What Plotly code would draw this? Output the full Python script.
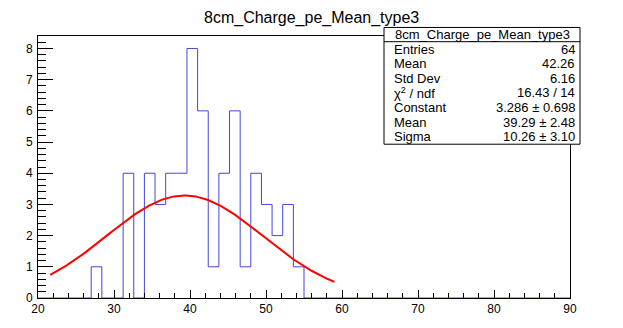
import plotly.graph_objects as go
import math

# ---------------- data ----------------
hist_title = "8cm_Charge_pe_Mean_type3"
x_min, x_max, n_bins = 20.0, 90.0, 50
counts = [0, 0, 0, 0, 0, 1, 0, 0, 4, 0,
          4, 3, 4, 4, 8, 6, 1, 4, 6, 1,
          4, 3, 2, 3, 1, 0, 0, 0, 0, 0,
          0, 0, 0, 0, 0, 0, 0, 0, 0, 0,
          0, 0, 0, 0, 0, 0, 0, 0, 0, 0]
fit_constant, fit_mean, fit_sigma = 3.286, 39.29, 10.26
fit_range = [21.6, 59.0]
stat_labels = ["Entries", "Mean", "Std Dev", "χ<sup>2</sup> / ndf", "Constant", "Mean", "Sigma"]
stat_values = ["64", "42.26", "6.16", "16.43 / 14", "3.286 ± 0.698", "39.29 ± 2.48", "10.26 ± 3.10"]
x_ticks = [20, 30, 40, 50, 60, 70, 80, 90]
y_ticks = [0, 1, 2, 3, 4, 5, 6, 7, 8]

# ---------------- build ----------------
W, H = 623, 328
L, R, T, B = 38, 570, 36, 312
width = (x_max - x_min) / n_bins
edges = [x_min + i * width for i in range(n_bins + 1)]
sx = [x_min] + edges + [x_max]
sy = [0] + counts + [counts[-1], 0]

n_fit = 200
fx = [fit_range[0] + (fit_range[1] - fit_range[0]) * i / (n_fit - 1) for i in range(n_fit)]
fy = [fit_constant * math.exp(-0.5 * ((v - fit_mean) / fit_sigma) ** 2) for v in fx]

FONT = "Liberation Sans, Arial, Helvetica, sans-serif"

fig = go.Figure()
fig.add_trace(go.Scatter(x=sx, y=sy, mode="lines", line=dict(shape="hv", color="rgb(70,70,215)", width=1),
                         hoverinfo="skip", showlegend=False))
fig.add_trace(go.Scatter(x=fx, y=fy, mode="lines", line=dict(color="rgb(255,0,0)", width=2),
                         hoverinfo="skip", showlegend=False))

def px(x):
    return (x - L) / (R - L)

def py(y):
    return (B - y) / (B - T)

box_l, box_r, box_t, box_b, sep = 384, 580, 27, 150, 42
shapes = [
    dict(type="rect", xref="paper", yref="paper", x0=px(box_l), x1=px(box_r), y0=py(box_b), y1=py(box_t),
         line=dict(color="black", width=1), fillcolor="white", layer="above"),
    dict(type="line", xref="paper", yref="paper", x0=px(box_l), x1=px(box_r), y0=py(sep), y1=py(sep),
         line=dict(color="black", width=1), layer="above"),
]
annotations = [
    dict(text=hist_title, xref="paper", yref="paper", x=px(311), y=py(17), xanchor="center", yanchor="middle",
         showarrow=False, font=dict(family=FONT, size=16, color="black")),
    dict(text=hist_title, xref="paper", yref="paper", x=px((box_l + box_r) / 2), y=py(34.5), xanchor="center",
         yanchor="middle", showarrow=False, font=dict(family=FONT, size=13, color="black")),
]
row_h = (box_b - sep) / len(stat_labels)
for i, (lab, val) in enumerate(zip(stat_labels, stat_values)):
    yc = sep + row_h * (i + 0.5)
    annotations.append(dict(text=lab, xref="paper", yref="paper", x=px(392), y=py(yc), xanchor="left",
                            yanchor="middle", showarrow=False, font=dict(family=FONT, size=13, color="black")))
    annotations.append(dict(text=val, xref="paper", yref="paper", x=px(577), y=py(yc), xanchor="right",
                            yanchor="middle", showarrow=False, font=dict(family=FONT, size=13, color="black")))

fig.update_layout(
    width=W, height=H, margin=dict(l=L, r=W - R, t=T, b=H - B),
    paper_bgcolor="white", plot_bgcolor="white",
    shapes=shapes, annotations=annotations,
    font=dict(family=FONT, color="black"),
    xaxis=dict(range=[x_min, x_max], tickvals=x_ticks, ticks="inside", ticklen=8, tickcolor="black",
               showgrid=False, zeroline=False, showline=True, linecolor="black", linewidth=1, mirror=True,
               tickfont=dict(size=12), ticklabelstandoff=0,
               minor=dict(ticks="inside", ticklen=5, dtick=2, tick0=0, tickcolor="black", showgrid=False)),
    yaxis=dict(range=[0, 8.4], tickvals=y_ticks, ticks="inside", ticklen=15, tickcolor="black",
               showgrid=False, zeroline=False, showline=True, linecolor="black", linewidth=1, mirror=True,
               tickfont=dict(size=12), ticklabelstandoff=2,
               minor=dict(ticks="inside", ticklen=8, dtick=0.2, tick0=0, tickcolor="black", showgrid=False)),
)
fig.write_html("out.html")
